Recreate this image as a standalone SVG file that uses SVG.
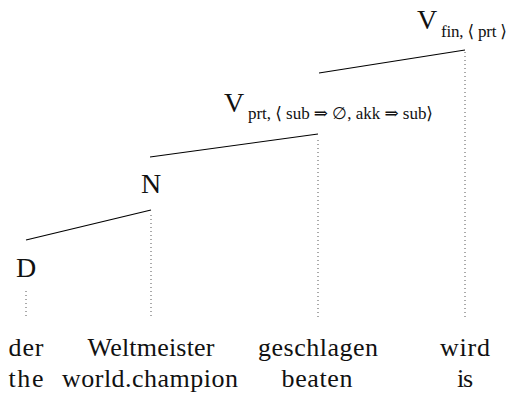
<svg xmlns="http://www.w3.org/2000/svg" width="512" height="399" viewBox="0 0 512 399">
<style>
text{font-family:"Liberation Serif","DejaVu Serif",serif;fill:#111}
.w{font-size:26px;text-anchor:middle}
.cat{font-size:28px}
.sub{font-size:17px}
.edge{stroke:#000;stroke-width:1.2;fill:none}
.dot{stroke:#555;stroke-width:1;stroke-dasharray:1 3;fill:none}
</style>
<rect width="512" height="399" fill="#fff"/>
<g id="connectors">
<line class="edge" x1="319" y1="73" x2="465" y2="50"/>
<line class="edge" x1="150" y1="157" x2="318" y2="134"/>
<line class="edge" x1="26" y1="240" x2="151" y2="210"/>
<line class="dot" x1="26" y1="291" x2="26" y2="318"/>
<line class="dot" x1="151" y1="215" x2="151" y2="318"/>
<line class="dot" x1="318" y1="140" x2="318" y2="318"/>
<line class="dot" x1="465" y1="52" x2="465" y2="318"/>
</g>
<g id="Vfin">
<text class="cat" x="417" y="29">V</text>
<text class="sub" x="441" y="37" textLength="66">fin, ⟨ prt ⟩</text>
</g>
<g id="Vprt">
<text class="cat" x="224" y="112">V</text>
<text class="sub" x="248" y="119" textLength="185">prt, ⟨ sub ⇒ ∅, akk ⇒ sub⟩</text>
</g>
<g id="N"><text class="cat" x="151" y="193" text-anchor="middle">N</text></g>
<g id="D"><text class="cat" x="26" y="277" text-anchor="middle">D</text></g>
<g id="words">
<text class="w" x="26" y="356" textLength="35">der</text>
<text class="w" x="151" y="356" textLength="127">Weltmeister</text>
<text class="w" x="318" y="356" textLength="120">geschlagen</text>
<text class="w" x="465" y="356" textLength="50">wird</text>
<text class="w" x="26" y="387" textLength="35">the</text>
<text class="w" x="150" y="387" textLength="176">world.champion</text>
<text class="w" x="317" y="387" textLength="71">beaten</text>
<text class="w" x="465" y="387" textLength="16">is</text>
</g>
</svg>
